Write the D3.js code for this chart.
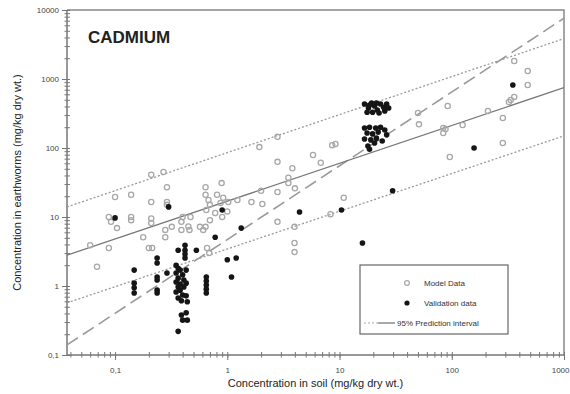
<!DOCTYPE html>
<html>
<head>
<meta charset="utf-8">
<script src="https://cdn.jsdelivr.net/npm/d3@7"></script>
<style>
  body { margin: 0; background: #fff; }
  svg { display: block; font-family: "Liberation Sans", Arial, sans-serif; }
</style>
</head>
<body>
<svg id="chart" width="570" height="394"></svg>
<script>
// model data: [soil, earthworm] in mg/kg dry wt.
const modelData = [
  [0.060, 3.9], [0.069, 1.9], [0.088, 3.55], [0.088, 10], [0.092, 8.5], [0.10, 19.5],
  [0.104, 6.9], [0.139, 21], [0.139, 10], [0.139, 9], [0.178, 5.1], [0.20, 3.55],
  [0.214, 3.55], [0.21, 41], [0.21, 16.5], [0.21, 9.5], [0.21, 8.2], [0.27, 45],
  [0.29, 27], [0.29, 16.5], [0.29, 15], [0.28, 6.5], [0.28, 5.1], [0.32, 7.2],
  [0.39, 8.5], [0.39, 6.5], [0.47, 10], [0.46, 6.5], [0.64, 27], [0.64, 21],
  [0.68, 17.6], [0.70, 15], [0.65, 12.6], [0.81, 21], [0.89, 31], [0.92, 19],
  [0.87, 16], [1.02, 16.5], [0.78, 11.4], [0.90, 10], [1.0, 12], [0.70, 9],
  [0.64, 7.2], [0.57, 7.2], [0.61, 6.5], [0.66, 3.55], [0.69, 3.0], [0.40, 10],
  [0.45, 7.3], [1.23, 17.6], [1.64, 16.5], [2.0, 24], [2.05, 15.4], [1.93, 103],
  [2.8, 145], [2.8, 63], [2.8, 23], [2.8, 8.5], [3.5, 37], [3.5, 31],
  [3.8, 51], [4.0, 26], [3.97, 7.2], [3.97, 4.2], [3.97, 3.1], [5.8, 79],
  [6.8, 61], [8.6, 110], [9.2, 114], [10.9, 19], [8.3, 11], [50, 321],
  [51, 220], [92, 406], [84, 195], [84, 165], [88, 188], [125, 215],
  [96, 74], [210, 345], [285, 272], [285, 118], [335, 496], [360, 550],
  [323, 464], [360, 1820], [475, 1306], [475, 819]
];

const validationData = [
  [0.10, 9.7], [0.148, 1.7], [0.148, 1.1], [0.148, 0.94], [0.148, 0.79],
  [0.237, 2.55], [0.237, 2.15], [0.237, 1.35], [0.237, 1.22], [0.237, 0.87], [0.237, 0.79],
  [0.29, 1.54], [0.30, 14], [0.365, 3.3],
  [0.35, 2.0], [0.365, 1.8], [0.38, 1.7], [0.35, 1.54], [0.40, 1.45], [0.365, 1.3],
  [0.41, 1.22], [0.35, 1.14], [0.38, 1.07], [0.365, 0.97], [0.41, 0.97], [0.38, 0.87],
  [0.35, 0.82], [0.40, 0.74], [0.365, 0.67], [0.39, 0.61], [0.42, 3.9], [0.42, 3.3],
  [0.42, 2.9], [0.42, 2.55], [0.43, 1.7], [0.43, 1.1], [0.43, 0.72], [0.44, 0.59],
  [0.39, 0.38], [0.43, 0.41], [0.44, 0.32], [0.40, 0.32], [0.365, 0.22],
  [0.53, 3.3], [0.65, 1.35], [0.65, 1.18], [0.65, 1.03], [0.65, 0.90], [0.65, 0.79],
  [0.78, 5.1], [0.90, 12.6], [1.0, 2.4], [1.2, 2.55], [1.09, 1.35], [1.33, 6.9],
  [4.4, 11.8], [10.4, 12.6], [16, 4.2], [29.7, 24], [158, 100], [350, 820],
  [16.7, 435], [18.1, 380], [19.3, 450], [20.5, 406], [21.7, 355], [23.2, 435],
  [24.7, 390], [26.3, 435], [17.6, 330], [19.7, 330], [22.5, 321], [25.3, 345],
  [18.5, 420], [21.3, 450], [27.4, 380],
  [16.7, 195], [18.5, 200], [21, 195], [23.2, 200], [25.3, 182], [17.6, 165],
  [19.7, 160], [22.1, 170], [26.3, 155], [16.7, 135], [19, 131], [21.3, 139],
  [24, 126], [17.9, 107], [20.5, 118], [18.5, 96]
];

// straight lines on log-log axes, given by their end points
const fitLine = [[0.0373, 2.8], [1000, 750]];
const upperPI = [[0.0373, 14], [1000, 3850]];
const lowerPI = [[0.0373, 0.57], [1000, 150]];
const dashedLine = [[0.0373, 0.14], [1000, 7600]];

const xTicks = [0.1, 1, 10, 100, 1000];
const xTickLabels = ['0,1', '1', '10', '100', '1000'];
const yTicks = [0.1, 1, 10, 100, 1000, 10000];
const yTickLabels = ['0,1', '1', '10', '100', '1000', '10000'];

const legendItems = ['Model Data', 'Validation data', '95% Prediction interval'];

const svg = d3.select('#chart');
const plotLeft = 67, plotRight = 564, plotTop = 10, plotBottom = 355;

const x = d3.scaleLog().domain([0.0373, 1000]).range([plotLeft, plotRight]);
const y = d3.scaleLog().domain([0.1, 10000]).range([plotBottom, plotTop]);

svg.append('clipPath').attr('id', 'plot-clip')
  .append('rect')
  .attr('x', plotLeft).attr('y', plotTop)
  .attr('width', plotRight - plotLeft).attr('height', plotBottom - plotTop);

// frame top / right
svg.append('path')
  .attr('d', `M${plotLeft},${plotTop}H${plotRight}V${plotBottom}`)
  .attr('fill', 'none')
  .attr('stroke', '#888')
  .attr('stroke-width', 1.5);

// minor ticks (crossing the axis line)
const minorX = x.ticks().filter(d => d >= 0.0373);
const minorY = y.ticks();

function drawAxis(g, axis) {
  g.call(axis);
  g.select('.domain').remove();
  g.selectAll('line').attr('stroke', '#777').attr('stroke-width', 1);
}

svg.append('g').attr('transform', `translate(0,${plotBottom})`)
  .call(g => drawAxis(g, d3.axisBottom(x).tickValues(minorX).tickFormat('').tickSize(2.5)));
svg.append('g').attr('transform', `translate(0,${plotBottom})`)
  .call(g => drawAxis(g, d3.axisBottom(x).tickValues(minorX).tickFormat('').tickSize(-3)));
svg.append('g').attr('transform', `translate(${plotLeft},0)`)
  .call(g => drawAxis(g, d3.axisLeft(y).tickValues(minorY).tickFormat('').tickSize(2.5)));
svg.append('g').attr('transform', `translate(${plotLeft},0)`)
  .call(g => drawAxis(g, d3.axisLeft(y).tickValues(minorY).tickFormat('').tickSize(-3)));

// major ticks + labels
const xAxisG = svg.append('g').attr('transform', `translate(0,${plotBottom})`);
drawAxis(xAxisG, d3.axisBottom(x).tickValues(xTicks)
  .tickFormat((d, i) => xTickLabels[i]).tickSize(5).tickPadding(7));
xAxisG.selectAll('text').attr('font-size', 8).attr('fill', '#444');
// last label sits at the very edge of the picture: keep it inside
xAxisG.selectAll('text').filter(d => d === 1000)
  .attr('text-anchor', 'end').attr('dx', 5);

const yAxisG = svg.append('g').attr('transform', `translate(${plotLeft},0)`);
drawAxis(yAxisG, d3.axisLeft(y).tickValues(yTicks)
  .tickFormat((d, i) => yTickLabels[i]).tickSize(5).tickPadding(3));
yAxisG.selectAll('text').attr('font-size', 8).attr('fill', '#444');

// axis lines
svg.append('path')
  .attr('d', `M${plotLeft},${plotTop}V${plotBottom}H${plotRight}`)
  .attr('fill', 'none')
  .attr('stroke', '#777')
  .attr('stroke-width', 1.5);

// lines
const line = d3.line().x(d => x(d[0])).y(d => y(d[1]));
const plot = svg.append('g').attr('clip-path', 'url(#plot-clip)');

plot.append('path').datum(upperPI)
  .attr('d', line).attr('fill', 'none')
  .attr('stroke', '#9a9a9a').attr('stroke-width', 1.3).attr('stroke-dasharray', '2,2');
plot.append('path').datum(lowerPI)
  .attr('d', line).attr('fill', 'none')
  .attr('stroke', '#9a9a9a').attr('stroke-width', 1.3).attr('stroke-dasharray', '2,2');
plot.append('path').datum(dashedLine)
  .attr('d', line).attr('fill', 'none')
  .attr('stroke', '#999').attr('stroke-width', 1.6).attr('stroke-dasharray', '13,6');
plot.append('path').datum(fitLine)
  .attr('d', line).attr('fill', 'none')
  .attr('stroke', '#777').attr('stroke-width', 1.3);

// points
plot.selectAll('.model').data(modelData).join('circle')
  .attr('class', 'model')
  .attr('cx', d => x(d[0])).attr('cy', d => y(d[1]))
  .attr('r', 2.6)
  .attr('fill', 'none')
  .attr('stroke', '#a8a8a8')
  .attr('stroke-width', 1.3);

plot.selectAll('.valid').data(validationData).join('circle')
  .attr('class', 'valid')
  .attr('cx', d => x(d[0])).attr('cy', d => y(d[1]))
  .attr('r', 2.8)
  .attr('fill', '#151515');

// title
svg.append('text')
  .attr('x', 88).attr('y', 43)
  .attr('font-size', 17).attr('font-weight', 'bold')
  .attr('fill', '#222')
  .text('CADMIUM');

// axis titles
svg.append('text')
  .attr('x', (plotLeft + plotRight) / 2).attr('y', 387)
  .attr('text-anchor', 'middle')
  .attr('font-size', 11).attr('fill', '#222')
  .text('Concentration in soil (mg/kg dry wt.)');

svg.append('text')
  .attr('transform', `translate(21,${(plotTop + plotBottom) / 2}) rotate(-90)`)
  .attr('text-anchor', 'middle')
  .attr('font-size', 11).attr('fill', '#222')
  .text('Concentration in earthworms (mg/kg dry wt.)');

// legend
const legend = svg.append('g');
legend.append('rect')
  .attr('x', 360).attr('y', 265).attr('width', 148).attr('height', 69)
  .attr('fill', '#fff').attr('stroke', '#666').attr('stroke-width', 1.2);

legend.append('circle').attr('cx', 407).attr('cy', 283).attr('r', 2.4)
  .attr('fill', 'none').attr('stroke', '#a8a8a8').attr('stroke-width', 1.2);
legend.append('circle').attr('cx', 407).attr('cy', 303).attr('r', 2.6)
  .attr('fill', '#151515');
legend.append('line').attr('x1', 364).attr('x2', 378).attr('y1', 323).attr('y2', 323)
  .attr('stroke', '#aaa').attr('stroke-width', 1.2).attr('stroke-dasharray', '2,2');
legend.append('line').attr('x1', 378).attr('x2', 395).attr('y1', 323).attr('y2', 323)
  .attr('stroke', '#555').attr('stroke-width', 1);

legend.selectAll('.legtext').data(legendItems).join('text')
  .attr('class', 'legtext')
  .attr('x', (d, i) => i < 2 ? 424 : 397)
  .attr('y', (d, i) => 286 + i * 20)
  .attr('font-size', 8).attr('fill', '#333')
  .text(d => d);
</script>
</body>
</html>
